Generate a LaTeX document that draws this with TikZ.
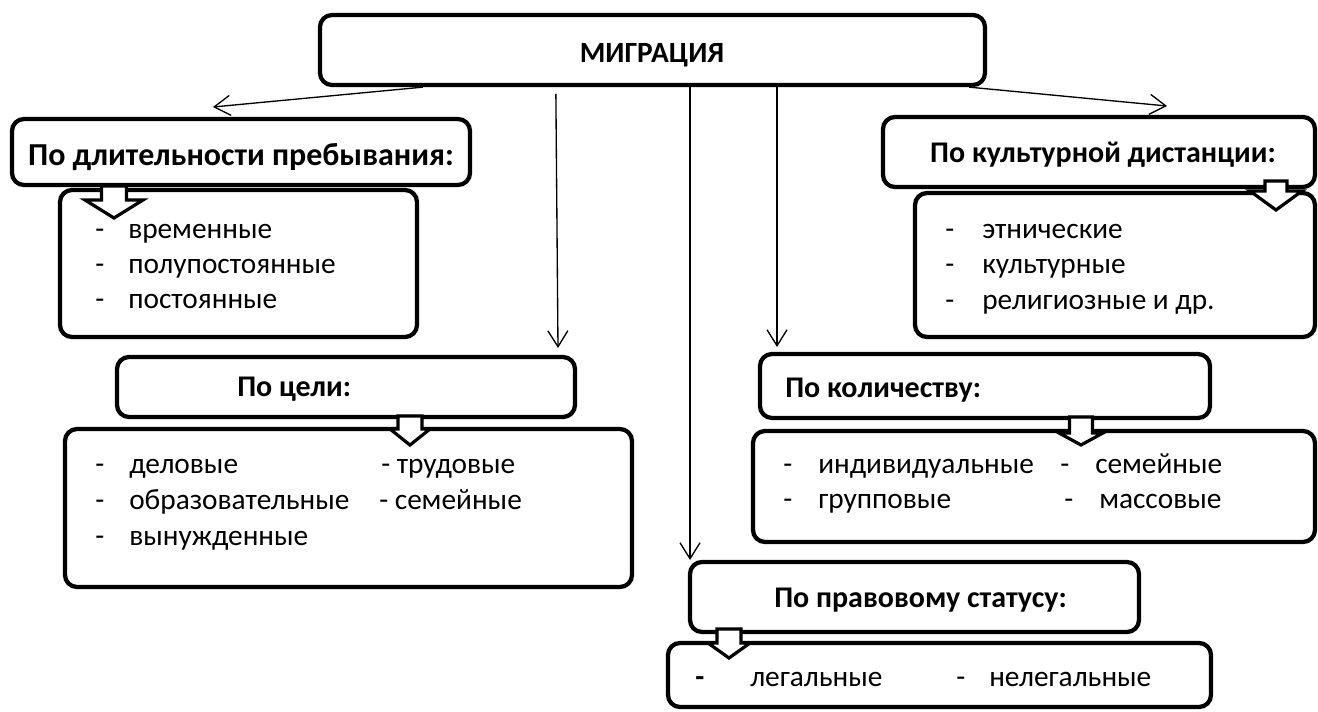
\documentclass[tikz,border=0pt]{standalone}
\usepackage{fontspec}
\setmainfont{Carlito}
\usetikzlibrary{arrows.meta}
\newcommand{\mkbox}[5]{%
  \pgfmathsetmacro{\bcx}{(#2+#4)/2}%
  \pgfmathsetmacro{\bcy}{(#3+#5)/2}%
  \pgfmathsetmacro{\bw}{(#4-#2)*0.75}%
  \pgfmathsetmacro{\bh}{(#5-#3)*0.75}%
  \node[box, minimum width=\bw pt, minimum height=\bh pt] (#1) at (\bcx,\bcy) {};}
\newcommand{\blkarrow}[7]{% name cx ytop ysh ytip stemhalf headhalf
  \draw[blk] ({#2-#6},#3) -- ({#2+#6},#3) -- ({#2+#6},#4) -- ({#2+#7},#4)
    -- (#2,#5) coordinate (#1) -- ({#2-#7},#4) -- ({#2-#6},#4) -- cycle;}
\begin{document}
\begin{tikzpicture}[x=0.75pt,y=-0.75pt,
  box/.style={draw, line width=3.2pt, rounded corners=9pt, fill=white, inner sep=0pt},
  conn/.style={-{Straight Barb[length=12pt,width=15pt,line width=1pt]}, line width=1pt},
  blk/.style={draw, line width=2.4pt, fill=white, line join=miter},
  hd/.style={font=\fontsize{22.5}{27}\selectfont\bfseries, inner sep=0pt},
  lt/.style={font=\fontsize{22}{26}\selectfont, anchor=base west, inner sep=0pt}]
\useasboundingbox (0,0) rectangle (1318,711);
\fill[white] (0,0) rectangle (1318,711);

% boxes
\mkbox{top}{320}{15}{985}{85}
\mkbox{durH}{12}{119}{470}{185}
\mkbox{durL}{60}{190}{417}{337}
\mkbox{culH}{883}{117}{1315}{187}
\mkbox{culL}{915}{193}{1315}{337}
\mkbox{goalH}{117}{357}{575}{417}
\mkbox{goalL}{65}{429}{632}{587}
\mkbox{qtyH}{760}{354}{1210}{418}
\mkbox{qtyL}{753}{431}{1315}{542}
\mkbox{legH}{690}{562}{1139}{632}
\mkbox{legL}{668}{643}{1211}{707}

% thin connectors
\coordinate (tA) at (213,107);
\coordinate (tB) at (1167,106);
\coordinate (tC) at (558,348);
\coordinate (tD) at (690,560);
\coordinate (tE) at (777,347);
\draw[conn] ([xshift=78.75pt]top.south west) -- (tA);
\draw[conn] ([xshift=-13.5pt]top.south east) -- (tB);
\draw[conn] ([xshift=178.5pt,yshift=-5pt]top.south west) -- (tC);
\draw[conn] (top.south -| tD) -- (tD);
\draw[conn] (top.south -| tE) -- (tE);

% block arrows
\blkarrow{bA}{114}{186}{200}{218}{12.5}{29}
\blkarrow{bB}{1276}{181}{191}{210}{11}{26}
\blkarrow{bC}{410}{416}{429}{445}{12}{20}
\blkarrow{bD}{1081}{417}{433}{445}{11.5}{22}
\blkarrow{bE}{729}{629}{643}{658}{12}{21}

% headings
\node[hd, font=\fontsize{22}{27}\selectfont\bfseries, anchor=base] (topT) at (652,62) {МИГРАЦИЯ};
\node[hd, font=\fontsize{24}{28}\selectfont\bfseries, anchor=base] (durT) at (241,165) {По длительности пребывания:};
\node[hd, anchor=base] (culT) at (1103,162) {По культурной дистанции:};
\node[hd, anchor=base west] (goalT) at (237,396) {По цели:};
\node[hd, anchor=base west] (qtyT) at (785,397) {По количеству:};
\node[hd, anchor=base west] (legT) at (774,607) {По правовому статусу:};

% duration list
\node[lt] (d1a) at (95,238.5) {-};
\node[lt] (d1) at (128,238.5) {временные};
\node[lt] (d2a) at (95,273.5) {-};
\node[lt] (d2) at (128,273.5) {полупостоянные};
\node[lt] (d3a) at (95,308.5) {-};
\node[lt] (d3) at (128,308.5) {постоянные};

% culture list
\node[lt] (c1a) at (945,238.5) {-};
\node[lt] (c1) at (982,238.5) {этнические};
\node[lt] (c2a) at (945,273.5) {-};
\node[lt] (c2) at (982,273.5) {культурные};
\node[lt] (c3a) at (945,309.5) {-};
\node[lt] (c3) at (982,309.5) {религиозные и др.};

% goal list
\node[lt] (g1a) at (95,473.5) {-};
\node[lt] (g1) at (129,473.5) {деловые};
\node[lt] (g2a) at (95,509.5) {-};
\node[lt] (g2) at (129,509.5) {образовательные};
\node[lt] (g3a) at (95,545.5) {-};
\node[lt] (g3) at (129,545.5) {вынужденные};
\node[lt] (g4) at (381,473.5) {- трудовые};
\node[lt] (g5) at (379,509.5) {- семейные};

% quantity list
\node[lt] (q1a) at (783,473.5) {-};
\node[lt] (q1) at (818,473.5) {индивидуальные};
\node[lt] (q2a) at (1060,473.5) {-};
\node[lt] (q2) at (1095,473.5) {семейные};
\node[lt] (q3a) at (783,508.5) {-};
\node[lt] (q3) at (818,508.5) {групповые};
\node[lt] (q4a) at (1064,508.5) {-};
\node[lt] (q4) at (1099,508.5) {массовые};

% legal list
\node[lt, font=\fontsize{22}{26}\selectfont\bfseries] (l1a) at (695,686.5) {-};
\node[lt] (l1) at (750,686.5) {легальные};
\node[lt] (l2a) at (956,686.5) {-};
\node[lt] (l2) at (989,686.5) {нелегальные};
\end{tikzpicture}
\end{document}
